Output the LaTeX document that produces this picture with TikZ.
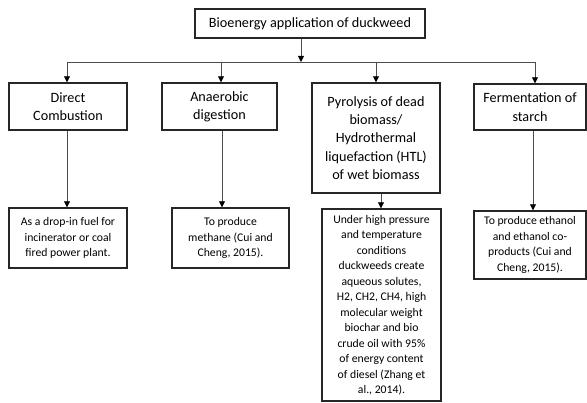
\documentclass[tikz,border=0pt]{standalone}
\usepackage{fontspec}
\setmainfont{Carlito}
\usetikzlibrary{arrows.meta}
\tikzset{
  boxbase/.style={draw=black!85, line width=1.4pt, rectangle, inner sep=0pt, align=center, text=black},
  upbox/.style={boxbase, font=\fontsize{14.2}{18.4}\selectfont},
  lowbox/.style={boxbase, font=\fontsize{11.7}{15.5}\selectfont},
  conn/.style={draw=black!70, line width=0.9pt},
  arr/.style={conn, -{Triangle[length=6pt,width=6pt,fill=black,color=black]}}
}
\begin{document}
\begin{tikzpicture}[x=1pt,y=-1pt]
\useasboundingbox (0,0) rectangle (587,403);
% top
\node[upbox, minimum width=230pt, minimum height=29pt] (top) at (310,23.5) {Bioenergy application of duckweed};
% level 1
\node[upbox, minimum width=118pt, minimum height=47pt] (b1) at (68,106.5) {Direct\\Combustion};
\node[upbox, minimum width=115pt, minimum height=47pt] (b2) at (219.5,106.5) {Anaerobic\\digestion};
\node[upbox, minimum width=128pt, minimum height=110pt] (b3) at (376,138) {Pyrolysis of dead\\biomass/\\Hydrothermal\\liquefaction (HTL)\\of wet biomass};
\node[upbox, minimum width=112pt, minimum height=46pt] (b4) at (530,107) {Fermentation of\\starch};
% level 2
\node[lowbox, minimum width=118pt, minimum height=60pt] (c1) at (68,238) {As a drop-in fuel for\\incinerator or coal\\fired power plant.};
\node[lowbox, minimum width=117pt, minimum height=60pt] (c2) at (230.5,238) {To produce\\methane (Cui and\\Cheng, 2015).};
\node[lowbox, minimum width=119pt, minimum height=192pt] (c3) at (381.5,305) {Under high pressure\\and temperature\\conditions\\duckweeds create\\aqueous solutes,\\H2, CH2, CH4, high\\molecular weight\\biochar and bio\\crude oil with 95\%\\of energy content\\of diesel (Zhang et\\al., 2014).};
\node[lowbox, minimum width=112pt, minimum height=68pt] (c4) at (530,245) {To produce ethanol\\and ethanol co-\\products (Cui and\\Cheng, 2015).};
% bus
\coordinate (j) at (301,62);
\coordinate (bus1) at (67,62);
\coordinate (bus2) at (221,62);
\coordinate (bus3) at (376,62);
\coordinate (bus4) at (535,62);
\coordinate (x1) at (67,0);
\coordinate (x2) at (222,0);
\coordinate (x3) at (381,0);
\coordinate (x4) at (533,0);
\draw[arr] (top.south -| j) -- (j);
\draw[conn] (bus1) -- (bus4);
\draw[arr] (bus1) -- (b1.north -| bus1);
\draw[arr] (bus2) -- (b2.north -| bus2);
\draw[arr] (bus3) -- (b3.north -| bus3);
\draw[arr] (bus4) -- (b4.north -| bus4);
\draw[arr] (b1.south -| x1) -- (c1.north -| x1);
\draw[arr] (b2.south -| x2) -- (c2.north -| x2);
\draw[arr] (b3.south -| x3) -- (c3.north -| x3);
\draw[arr] (b4.south -| x4) -- (c4.north -| x4);
\end{tikzpicture}
\end{document}
